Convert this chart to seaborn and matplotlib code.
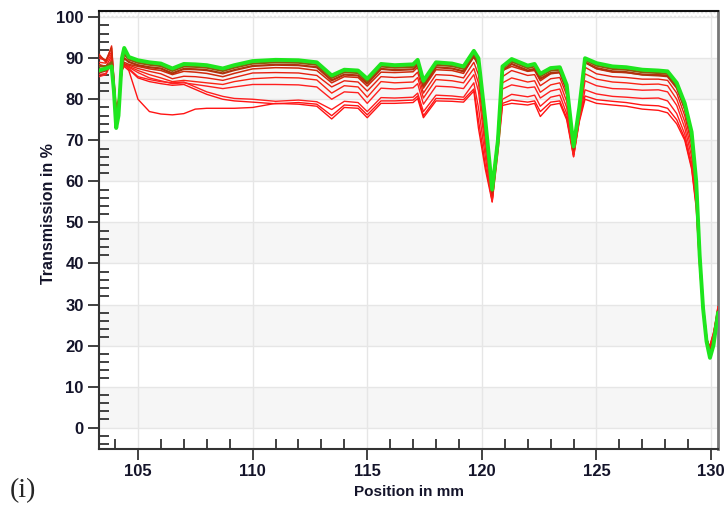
"""Transmission profile along the sample: green reference scan on top of the red scans."""

import matplotlib

matplotlib.use("Agg")
import matplotlib.pyplot as plt
import pandas as pd
import seaborn as sns
from matplotlib.ticker import MultipleLocator

# position grid in mm, shared by all scans
position = [
    103.3, 103.6, 103.85, 103.95, 104.05, 104.15, 104.3, 104.4, 104.6, 105.0,
    105.5, 106.0, 106.5, 107.0, 107.5, 108.0, 108.7, 109.2, 110.0, 111.0,
    112.0, 112.8, 113.45, 114.0, 114.6, 115.0, 115.6, 116.2, 117.0, 117.2,
    117.45, 118.0, 118.7, 119.2, 119.65, 119.85, 120.15, 120.45, 120.7, 120.9,
    121.3, 122.0, 122.3, 122.55, 123.0, 123.4, 123.7, 124.0, 124.25, 124.5,
    125.0, 125.7, 126.3, 127.0, 127.7, 128.1, 128.5, 128.85, 129.15, 129.35,
    129.5, 129.65, 129.8, 129.95, 130.1, 130.3,
]

green_top = [
    87, 87.5, 88, 82, 73, 76, 90, 92.5, 90.3, 89.5,
    89, 88.7, 87.5, 88.6, 88.5, 88.3, 87.5, 88.3, 89.3, 89.6,
    89.5, 89, 85.8, 87.2, 87, 85, 88.6, 88.3, 88.5, 89.6,
    84.5, 89, 88.7, 88, 91.8, 90, 75, 58, 70, 88,
    89.8, 88.2, 88.6, 86.2, 87.6, 87.8, 83.5, 68.5, 78, 90,
    88.8, 88, 87.8, 87.2, 87, 86.8, 84, 79, 72, 60,
    42, 29, 21, 17, 20, 28,
]

brown_1 = [
    88, 88, 89, 82, 74, 77, 89, 91, 89.7, 88.9,
    88.4, 88.1, 86.9, 88.0, 87.9, 87.7, 86.9, 87.7, 88.7, 89.0,
    88.9, 88.4, 85.2, 86.6, 86.4, 84.4, 88.0, 87.7, 87.9, 89.0,
    83.9, 88.4, 88.1, 87.4, 91.0, 89.2, 74.5, 57.8, 70.5, 87.6,
    89.2, 87.6, 88.0, 85.6, 87.0, 87.2, 83.0, 68.3, 77.8, 89.6,
    88.2, 87.4, 87.2, 86.6, 86.4, 86.2, 83.4, 78.4, 71.4, 59.8,
    42, 29.2, 21.4, 17.6, 20.4, 28.2,
]

brown_2 = [
    86.5, 87, 88.5, 83, 75, 78, 88.5, 90, 89.1, 88.3,
    87.8, 87.5, 86.3, 87.4, 87.3, 87.1, 86.3, 87.1, 88.1, 88.4,
    88.3, 87.8, 84.6, 86.0, 85.8, 83.8, 87.4, 87.1, 87.3, 88.4,
    83.3, 87.8, 87.5, 86.8, 90.4, 88.6, 74, 57.5, 70.8, 87.0,
    88.6, 87.0, 87.4, 85.0, 86.4, 86.6, 82.5, 68, 77.5, 89.0,
    87.6, 86.8, 86.6, 86.0, 85.8, 85.6, 82.8, 77.8, 70.8, 59.5,
    42, 29.3, 21.6, 18, 20.8, 28.4,
]

red_1 = [
    90.5, 89.5, 92.5, 84, 76, 78, 87.5, 89, 88.5, 88.0,
    87.4, 87.0, 86.0, 86.8, 86.6, 86.3, 85.5, 86.3, 87.4, 87.7,
    87.6, 87.0, 84, 85.5, 85.3, 83.2, 86.6, 86.5, 86.7, 87.8,
    82.7, 87.2, 87, 86.3, 90.5, 88, 73, 57, 71, 87,
    88, 86.8, 87, 84.5, 86.2, 86.5, 82, 68, 77, 89,
    87.4, 86.6, 86.5, 86, 86, 85.8, 83, 77.5, 70.5, 59,
    42, 29.5, 22, 18.5, 21, 28.5,
]

red_2 = [
    91, 89, 93, 85, 77, 79, 87, 88.5, 88.3, 87.5,
    86.8, 86.2, 85.0, 85.6, 85.5, 85.2, 84.6, 85.3, 86.4, 86.5,
    86.4, 85.8, 83, 84.5, 84.2, 82, 85.5, 85.3, 85.5, 86.6,
    81.5, 86, 85.8, 85.2, 89, 86, 72, 56.5, 71, 85.5,
    87, 85.8, 86, 83.3, 85, 85.3, 81, 67.5, 76.5, 87.8,
    86.2, 85.5, 85.3, 84.9, 84.9, 84.6, 81.5, 76, 69, 58,
    41.5, 29.5, 22, 19, 21.5, 29,
]

red_3 = [
    89, 88.8, 91, 84, 76.5, 78.5, 87.5, 88.5, 88.0, 87.0,
    86.0, 85.2, 84.3, 84.6, 84.3, 84.0, 83.6, 84.3, 85.0, 85.3,
    85.2, 84.7, 81.5, 83.3, 83, 80.5, 84.3, 84, 84.2, 85.3,
    80.3, 84.8, 84.5, 84, 87.5, 84, 70, 56, 70, 84,
    85.2, 84.2, 84.5, 81.7, 83.5, 84, 79.5, 67, 76, 86.2,
    84.9, 84.2, 84, 83.6, 83.7, 83.3, 80, 74.5, 67.5, 57,
    41, 29, 21.5, 19, 22, 29,
]

red_4 = [
    86, 86.3, 90, 83, 77, 79, 88, 88.5, 87.8, 86.5,
    85.2, 84.5, 83.8, 84.0, 83.6, 83.2, 82.6, 83.0, 83.6, 83.6,
    83.5, 83.0, 80, 81.8, 81.6, 79, 82.7, 82.5, 82.8, 83.8,
    78.8, 83.2, 83, 82.6, 86, 82, 68, 55.5, 70, 82.5,
    83.5, 82.8, 83, 80.3, 82, 82.5, 78, 66.5, 75.5, 84.5,
    83.3, 82.6, 82.5, 82.2, 82.3, 81.8, 78.5, 73, 66, 56,
    40.5, 29, 21.5, 19.5, 22, 29.5,
]

red_5 = [
    85.5, 86, 89, 82, 76, 78, 87.5, 88.3, 87.5, 85.5,
    84.8, 84.3, 84.0, 84.2, 83.0, 81.8, 80.7, 80.2, 80.0, 79.5,
    79.8, 79.4, 77.5, 79.5, 79.2, 77, 80.4, 80.3, 80.5, 81.5,
    77, 81, 80.8, 80.5, 84, 78, 66, 55, 69, 80,
    81.2, 80.6, 81, 78.3, 80.5, 81, 76.5, 66, 75, 82.3,
    81.3, 80.7, 80.5, 80.2, 80.3, 79.6, 76.5, 71.5, 64.5, 55,
    40, 28.5, 21, 19.5, 22.5, 29.5,
]

red_6 = [
    90, 89.5, 91.5, 85, 78, 80, 87, 88, 87, 80,
    77, 76.4, 76.2, 76.5, 77.6, 77.8, 77.8, 77.8, 78, 79,
    78.8, 78.3, 75.2, 78, 77.8, 75.5, 79, 79, 79.2, 80.2,
    75.5, 79.6, 79.5, 79.3, 82, 73, 63, 55, 67, 78.5,
    79, 78.6, 79, 75.8, 78.6, 79, 75, 66, 74.5, 80,
    79, 78.6, 78.3, 77.6, 77.3, 76.7, 74, 70, 63, 53.5,
    39, 28, 20.5, 20, 23, 28.5,
]

red_7 = [
    88.5, 88, 90.5, 84, 77, 79, 88, 88.8, 87.3, 85.2,
    84.3, 83.8, 83.4, 83.6, 82.4, 81.2, 80.0, 79.6, 79.3, 78.9,
    79.2, 78.8, 76, 78.6, 78.4, 76.2, 79.6, 79.6, 79.8, 80.8,
    76, 80.2, 80.1, 79.9, 82.5, 75, 64, 55.5, 68, 79,
    79.8, 79.3, 79.6, 77, 79.3, 79.6, 75.5, 66.5, 75, 80.8,
    79.9, 79.5, 79.2, 78.6, 78.4, 77.8, 75, 70.5, 63.5, 54,
    39.5, 28.5, 21, 20, 23, 29,
]

SCANS = {
    "red_6": red_6, "red_7": red_7, "red_5": red_5, "red_4": red_4,
    "red_3": red_3, "red_2": red_2, "red_1": red_1,
    "brown_2": brown_2, "brown_1": brown_1, "green_top": green_top,
}

# drawing order = dict order; (colour, line width)
STYLES = {
    "red_6": ("#ff1414", 1.0),
    "red_7": ("#ff1414", 1.0),
    "red_5": ("#ff1e1e", 1.0),
    "red_4": ("#ff2020", 1.0),
    "red_3": ("#fa2414", 1.0),
    "red_2": ("#e62010", 1.0),
    "red_1": ("#d02a0c", 1.1),
    "brown_2": ("#b0320c", 1.6),
    "brown_1": ("#8c5a0a", 1.6),
    "green_top": ("#1ee61e", 2.8),
}


def main() -> None:
    sns.set_style("white")
    plt.rcParams["font.family"] = ["Liberation Sans", "DejaVu Sans"]

    df = pd.DataFrame(
        [
            {"curve": name, "position": x, "transmission": y}
            for name, values in SCANS.items()
            for x, y in zip(position, values)
        ]
    )

    fig = plt.figure(figsize=(7.26, 5.08), dpi=100)
    ax = fig.add_axes([99 / 726, 1 - 449 / 508, 619 / 726, 438 / 508])

    # alternating light bands and hatched strip above 100 %
    for lo in range(0, 90, 20):
        ax.axhspan(lo, lo + 10, color="#f6f6f6", lw=0, zorder=0)
    ax.axhspan(100, 101.5, facecolor="white", edgecolor="#e2e2e2", hatch="....", lw=0, zorder=0)

    for name, (color, lw) in STYLES.items():
        sns.lineplot(
            data=df[df["curve"] == name],
            x="position",
            y="transmission",
            color=color,
            linewidth=lw,
            sort=False,
            estimator=None,
            ax=ax,
            zorder=3,
        )

    ax.set_xlim(103.3, 130.3)
    ax.set_ylim(-5.2, 101.5)
    ax.set_xticks(range(105, 131, 5))
    ax.set_yticks(range(0, 101, 10))
    ax.xaxis.set_minor_locator(MultipleLocator(1))
    ax.yaxis.set_minor_locator(MultipleLocator(2))
    ax.grid(which="major", color="#e6e6e6", lw=1)
    ax.set_axisbelow(True)

    ax.tick_params(which="both", bottom=True, left=True, top=False, right=False)
    ax.tick_params(which="major", direction="out", length=8, width=1.3,
                   color="#333333", labelcolor="#14142a", labelsize=12, pad=3)
    ax.tick_params(which="minor", direction="in", length=7, width=1.3, color="#333333")
    for lbl in ax.get_xticklabels() + ax.get_yticklabels():
        lbl.set_fontweight("bold")

    for side in ("left", "bottom"):
        ax.spines[side].set_color("#333333")
        ax.spines[side].set_linewidth(1.5)
    ax.spines["top"].set_color("#111111")
    ax.spines["top"].set_linewidth(1.5)
    ax.spines["right"].set_color("#777777")
    ax.spines["right"].set_linewidth(2)

    ax.set_xlabel("Position in mm", fontsize=11, fontweight="bold", color="#14142a")
    ax.set_ylabel("Transmission in %", fontsize=11.5, fontweight="bold", color="#14142a")
    ax.xaxis.set_label_coords(0.5, -0.082)
    ax.yaxis.set_label_coords(-0.07, 0.537)

    fig.text(10 / 726, 1 - 497 / 508, "(i)", fontsize=20,
             family=["Liberation Serif", "DejaVu Serif"], va="baseline")

    fig.savefig("out.png", dpi=100)
    plt.close(fig)


if __name__ == "__main__":
    main()
